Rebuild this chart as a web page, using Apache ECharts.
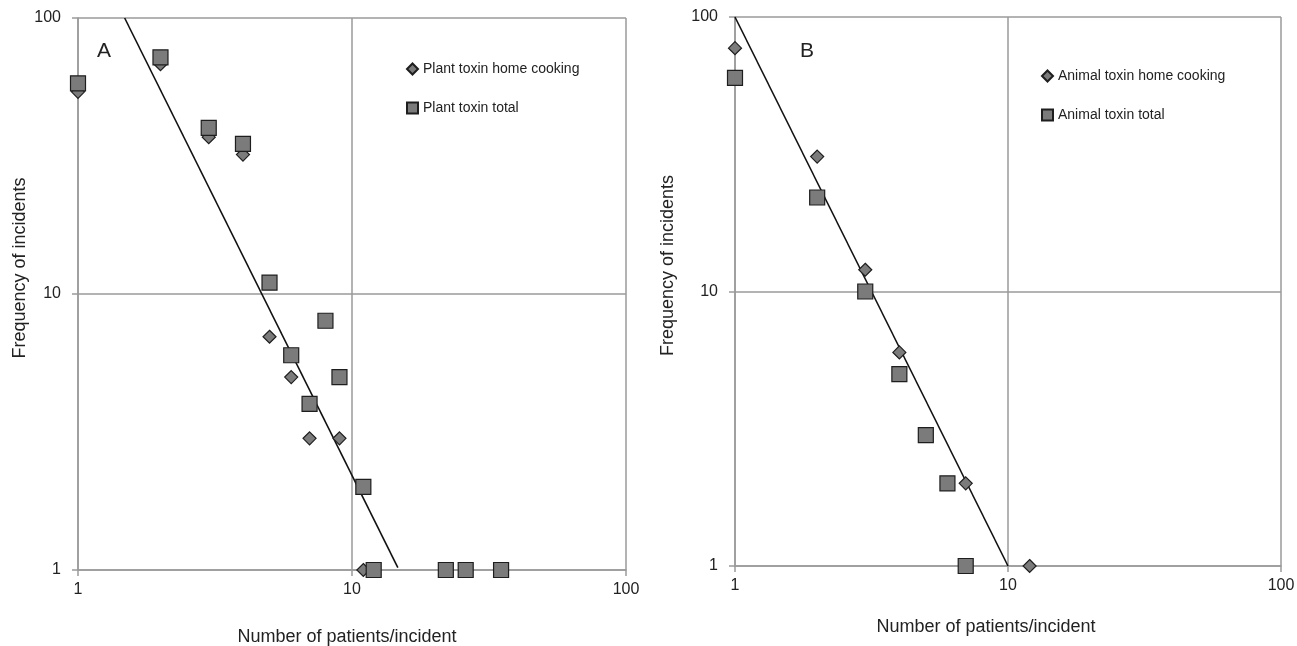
<!DOCTYPE html>
<html>
<head>
<meta charset="utf-8">
<script src="https://cdn.jsdelivr.net/npm/echarts@6/dist/echarts.min.js"></script>
<style>
  html, body { margin: 0; padding: 0; background: #fff; }
  #chart { width: 1297px; height: 646px; }
</style>
</head>
<body>
<div id="chart"></div>
<script>
  // panel A: plant toxins
  let plantHome = [[1, 54], [2, 68], [3, 37], [4, 32], [5, 7], [6, 5], [7, 3], [9, 3], [11, 1]];
  let plantTotal = [[1, 58], [2, 72], [3, 40], [4, 35], [5, 11], [6, 6], [7, 4], [8, 8], [9, 5], [11, 2], [12, 1], [22, 1], [26, 1], [35, 1]];
  let plantTrend = [[1.48, 100], [14.7, 1.02]];

  // panel B: animal toxins
  let animalHome = [[1, 77], [2, 31], [3, 12], [4, 6], [7, 2], [12, 1]];
  let animalTotal = [[1, 60], [2, 22], [3, 10], [4, 5], [5, 3], [6, 2], [7, 1]];
  let animalTrend = [[1, 100], [10, 1]];

  let tickLabels = ['1', '10', '100'];

  let myChart = echarts.init(document.getElementById('chart'));
  let font = 'Liberation Sans, Arial, sans-serif';
  let gridColor = '#9a9a9a';
  let fill = '#7b7b7b';

  function logAxis(gridIndex, name, nameGap, isX, namePadding) {
    return {
      type: 'log',
      logBase: 10,
      gridIndex: gridIndex,
      min: 1,
      max: 100,
      name: name,
      nameLocation: 'middle',
      nameGap: nameGap,
      nameRotate: isX ? 0 : 90,
      nameTextStyle: { fontFamily: font, fontSize: 18, color: '#222', padding: namePadding },
      axisLine: { show: true, lineStyle: { color: gridColor, width: 1.5 } },
      axisTick: { show: true, length: 6, lineStyle: { color: gridColor, width: 1.5 } },
      axisLabel: {
        fontFamily: font, fontSize: 16, color: '#222', margin: isX ? 12 : 17,
        formatter: (v) => tickLabels.indexOf(String(Math.round(v))) >= 0 ? String(Math.round(v)) : ''
      },
      splitLine: { show: true, lineStyle: { color: gridColor, width: 1.5 } },
      minorTick: { show: false },
      minorSplitLine: { show: false }
    };
  }

  function scatter(name, data, idx, symbol, size) {
    return {
      name: name,
      type: 'scatter',
      xAxisIndex: idx,
      yAxisIndex: idx,
      symbol: symbol,
      symbolSize: size,
      itemStyle: { color: fill, borderColor: '#1e1e1e', borderWidth: 1.2, opacity: 1 },
      data: data
    };
  }

  function trend(data, idx) {
    return {
      type: 'line',
      xAxisIndex: idx,
      yAxisIndex: idx,
      showSymbol: false,
      silent: true,
      lineStyle: { color: '#111', width: 1.6 },
      data: data,
      z: 1
    };
  }

  let option = {
    animation: false,
    backgroundColor: '#fff',
    grid: [
      { left: 78, top: 18, width: 548, height: 552, containLabel: false, outerBoundsMode: 'none' },
      { left: 735, top: 17, width: 546, height: 549, containLabel: false, outerBoundsMode: 'none' }
    ],
    xAxis: [
      logAxis(0, 'Number of patients/incident', 58, true, [0, 10, 0, 0]),
      logAxis(1, 'Number of patients/incident', 52, true, [0, 44, 0, 0])
    ],
    yAxis: [
      logAxis(0, 'Frequency of incidents', 49, false, [0, 0, 0, 52]),
      logAxis(1, 'Frequency of incidents', 58, false, [0, 0, 0, 52])
    ],
    legend: [
      {
        data: [{ name: 'Plant toxin home cooking', icon: 'diamond' }, { name: 'Plant toxin total', icon: 'rect' }],
        orient: 'vertical', left: 401, top: 57, itemWidth: 11, itemHeight: 11, itemGap: 25,
        textStyle: { fontFamily: font, fontSize: 14, color: '#222' }
      },
      {
        data: [{ name: 'Animal toxin home cooking', icon: 'diamond' }, { name: 'Animal toxin total', icon: 'rect' }],
        orient: 'vertical', left: 1036, top: 64, itemWidth: 11, itemHeight: 11, itemGap: 25,
        textStyle: { fontFamily: font, fontSize: 14, color: '#222' }
      }
    ],
    graphic: [
      { type: 'text', left: 97, top: 41, style: { text: 'A', font: '21px Liberation Sans, Arial', fill: '#222' } },
      { type: 'text', left: 800, top: 41, style: { text: 'B', font: '21px Liberation Sans, Arial', fill: '#222' } }
    ],
    series: [
      trend(plantTrend, 0),
      scatter('Plant toxin home cooking', plantHome, 0, 'diamond', 13),
      scatter('Plant toxin total', plantTotal, 0, 'rect', 15),
      trend(animalTrend, 1),
      scatter('Animal toxin home cooking', animalHome, 1, 'diamond', 13),
      scatter('Animal toxin total', animalTotal, 1, 'rect', 15)
    ]
  };
  myChart.setOption(option);
</script>
</body>
</html>
